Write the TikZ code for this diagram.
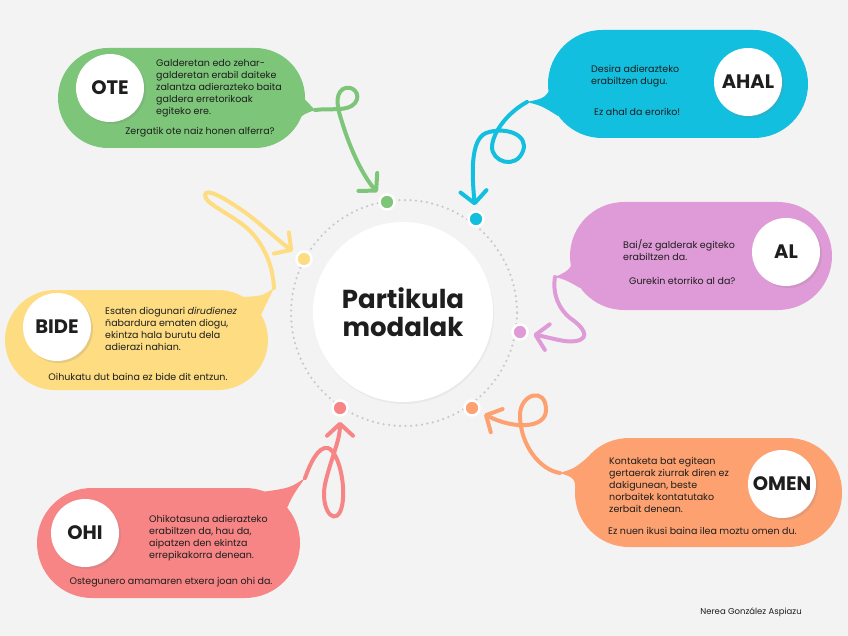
\documentclass[tikz,border=0pt]{standalone}
\usepackage{fontspec}
\setmainfont{Poppins}
\usetikzlibrary{arrows.meta,shadows}
\definecolor{bg}{HTML}{F3F3F3}
\definecolor{cote}{HTML}{7DC579}
\definecolor{cahal}{HTML}{12BFDF}
\definecolor{cal}{HTML}{DF9BD7}
\definecolor{cbide}{HTML}{FDDC82}
\definecolor{comen}{HTML}{FDA171}
\definecolor{cohi}{HTML}{F78585}
\definecolor{ringc}{HTML}{C9C9C9}
\definecolor{ink}{HTML}{1E1E1E}

\begin{document}
\begin{tikzpicture}[x=1pt,y=-1pt,text=ink,
  box/.style={fill=#1,inner sep=0pt},
  lbl/.style={circle,fill=white,minimum size=68pt,inner sep=0pt,font=\fontsize{19.5}{22}\selectfont\bfseries,
    drop shadow={shadow xshift=2pt,shadow yshift=-2pt,opacity=.2}},
  txt/.style={font=\fontsize{9.5}{12}\selectfont,align=left,inner sep=0pt,anchor=north west},
  ex/.style={font=\fontsize{9.5}{12}\selectfont,inner sep=0pt},
  dot/.style={circle,fill=#1,draw=white,line width=2.5pt,minimum size=15pt,inner sep=0pt},
  arr/.style={draw=#1,line width=4pt,line cap=round,shorten >=5pt,
    -{Straight Barb[length=12pt,width=26pt,line width=4pt,round]}}]
  \fill[bg] (0,0) rectangle (848,636);
  \useasboundingbox (0,0) rectangle (848,636);

  \draw[ringc,line width=2.5pt,line cap=round,dash pattern=on 0pt off 5.5pt] (404,313) circle[radius=113];
  \node[circle,fill=white,minimum size=180pt,inner sep=0pt,align=center,
    font=\fontsize{26}{28}\selectfont\bfseries,
    drop shadow={shadow xshift=1pt,shadow yshift=-2pt,opacity=.08}] (hub) at (403,312) {Partikula\\modalak};

  \node[dot=cote] (dote) at (387,202) {};
  \node[dot=cahal] (dahal) at (476,219) {};
  \node[dot=cbide] (dbide) at (304,259) {};
  \node[dot=cal] (dal) at (520,332) {};
  \node[dot=cohi] (dohi) at (340,408) {};
  \node[dot=comen] (domen) at (472,408) {};

  \node[box=cote,minimum width=247pt,minimum height=100pt,rounded corners=50pt] (ote) at (181.5,98) {};
  \node[box=cahal,minimum width=260pt,minimum height=108pt,rounded corners=54pt] (ahal) at (678,84) {};
  \node[box=cal,minimum width=262pt,minimum height=108pt,rounded corners=54pt] (al) at (701,256) {};
  \node[box=cbide,minimum width=263pt,minimum height=100pt,rounded corners=50pt] (bide) at (136.5,340) {};
  \node[box=comen,minimum width=267pt,minimum height=109pt,rounded corners=54pt] (omen) at (708.5,492.5) {};
  \node[box=cohi,minimum width=263pt,minimum height=110pt,rounded corners=55pt] (ohi) at (168.5,543) {};

  \coordinate (otetip) at (315,110);
  \coordinate (ahaltip) at (527,102);
  \coordinate (altip) at (555,277);
  \coordinate (bidetip) at (274,288);
  \coordinate (omentip) at (560,473);
  \coordinate (ohitip) at (305,478);

  \fill[cote] (296,90) .. controls (306,100) .. (otetip) .. controls (304,114) .. (296,121) -- cycle;
  \fill[cahal] (552,86) .. controls (545,98) .. (ahaltip) .. controls (542,106) .. (558,116) -- cycle;
  \fill[cal] (575,255) .. controls (570,270) .. (altip) .. controls (566,280) .. (580,288) -- cycle;
  \fill[cbide] (243,297) .. controls (262,296) .. (bidetip) .. controls (268,302) .. (261,315) -- cycle;
  \fill[comen] (588,457) .. controls (575,468) .. (omentip) .. controls (575,478) .. (576,495) -- cycle;
  \fill[cohi] (262,492) .. controls (290,488) .. (ohitip) .. controls (293,495) .. (287,508) -- cycle;

  \draw[arr=cote] (otetip) .. controls (330,108) and (348,112) .. (355,103)
    .. controls (362,94) and (352,84) .. (343,89) .. controls (334,95) and (338,110) .. (342,122)
    .. controls (352,155) and (366,180) .. (dote);
  \draw[arr=cahal] (ahaltip) .. controls (512,110) and (494,128) .. (492,146)
    .. controls (491,162) and (516,170) .. (523,151) .. controls (529,135) and (506,126) .. (486,133)
    .. controls (470,140) and (472,175) .. (dahal);
  \draw[arr=cbide] (bidetip) .. controls (273,268) and (266,248) .. (251,232)
    .. controls (236,216) and (204,204) .. (205,195) .. controls (206,187) and (226,199) .. (246,213)
    .. controls (262,225) and (280,242) .. (dbide);
  \draw[arr=cal] (altip) .. controls (552,295) and (560,310) .. (570,318)
    .. controls (582,326) and (592,338) .. (576,341) .. controls (566,343) and (552,338) .. (dal);
  \draw[arr=comen] (omentip) .. controls (540,470) and (520,445) .. (520,415)
    .. controls (520,394) and (546,386) .. (546,410) .. controls (546,428) and (515,430) .. (domen);
  \draw[arr=cohi] (ohitip) .. controls (310,464) and (318,446) .. (328,448)
    .. controls (340,452) and (348,495) .. (340,512) .. controls (332,526) and (319,505) .. (326,480)
    .. controls (332,456) and (340,440) .. (dohi);

  \node[lbl] (lote) at (110,88) {OTE};
  \node[lbl] (lahal) at (748,82) {AHAL};
  \node[lbl] (lal) at (786,252) {AL};
  \node[lbl] (lbide) at (57,327) {BIDE};
  \node[lbl] (lomen) at (782,484) {OMEN};
  \node[lbl] (lohi) at (85,533) {OHI};

  \node[txt] (tote) at (156,59) {Galderetan edo zehar-\\galderetan erabil daiteke\\zalantza adierazteko baita\\galdera erretorikoak\\egiteko ere.};
  \node[ex] (eote) at (200,132) {Zergatik ote naiz honen alferra?};
  \node[txt] (tahal) at (591,65) {Desira adierazteko\\erabiltzen dugu.};
  \node[ex,anchor=west] (eahal) at (594,112) {Ez ahal da eroriko!};
  \node[txt] (tal) at (623,239) {Bai/ez galderak egiteko\\erabiltzen da.};
  \node[ex,anchor=west] (eal) at (629,281) {Gurekin etorriko al da?};
  \node[txt] (tbide) at (105,307) {Esaten diogunari \textit{dirudienez}\\ñabardura ematen diogu,\\ekintza hala burutu dela\\adierazi nahian.};
  \node[ex] (ebide) at (138,377) {Oihukatu dut baina ez bide dit entzun.};
  \node[txt] (tomen) at (609,457) {Kontaketa bat egitean\\gertaerak ziurrak diren ez\\dakigunean, beste\\norbaitek kontatutako\\zerbait denean.};
  \node[ex,anchor=west] (eomen) at (608,531) {Ez nuen ikusi baina ilea moztu omen du.};
  \node[txt] (tohi) at (149,515) {Ohikotasuna adierazteko\\erabiltzen da, hau da,\\aipatzen den ekintza\\errepikakorra denean.};
  \node[ex] (eohi) at (171,582) {Ostegunero amamaren etxera joan ohi da.};

  \node[font=\fontsize{8.5}{10}\selectfont] (author) at (751,612) {Nerea González Aspiazu};
\end{tikzpicture}
\end{document}
